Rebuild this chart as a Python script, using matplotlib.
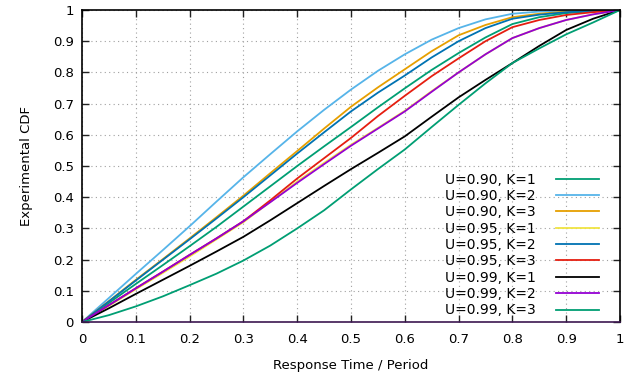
import matplotlib
matplotlib.use("Agg")
import matplotlib.pyplot as plt

x = [0.00, 0.05, 0.10, 0.15, 0.20, 0.25, 0.30, 0.35, 0.40, 0.45, 0.50,
     0.55, 0.60, 0.65, 0.70, 0.75, 0.80, 0.85, 0.90, 0.95, 1.00]

u90_k1 = [0, .061, .122, .182, .243, .305, .370, .435, .500, .563, .625,
          .688, .749, .808, .862, .912, .955, .977, .990, .996, 1]
u90_k2 = [0, .077, .154, .230, .307, .386, .464, .538, .611, .680, .745,
          .805, .858, .905, .942, .970, .988, .995, .998, .999, 1]
u90_k3 = [0, .067, .135, .201, .268, .336, .405, .477, .548, .620, .690,
          .752, .810, .868, .919, .952, .977, .988, .995, .998, 1]
u95_k1 = [0, .052, .105, .157, .210, .265, .320, .385, .450, .510, .568,
          .622, .677, .740, .800, .858, .910, .942, .968, .986, 1]
u95_k2 = [0, .066, .133, .199, .265, .332, .400, .470, .540, .608, .675,
          .735, .790, .848, .900, .942, .972, .985, .993, .997, 1]
u95_k3 = [0, .054, .108, .161, .215, .268, .323, .390, .460, .525, .590,
          .660, .725, .788, .845, .900, .945, .968, .984, .993, 1]
u99_k1 = [0, .044, .090, .135, .180, .226, .273, .326, .381, .436, .490,
          .542, .595, .658, .720, .776, .830, .885, .936, .972, 1]
u99_k2 = [0, .054, .108, .161, .215, .268, .323, .384, .446, .506, .565,
          .620, .675, .738, .800, .858, .910, .942, .968, .986, 1]
u99_k3 = [0, .022, .050, .082, .118, .155, .197, .245, .300, .358, .425,
          .490, .553, .625, .696, .765, .830, .877, .922, .960, 1]

labels = ["U=0.90, K=1", "U=0.90, K=2", "U=0.90, K=3",
          "U=0.95, K=1", "U=0.95, K=2", "U=0.95, K=3",
          "U=0.99, K=1", "U=0.99, K=2", "U=0.99, K=3"]
series = [u90_k1, u90_k2, u90_k3, u95_k1, u95_k2, u95_k3, u99_k1, u99_k2, u99_k3]
colors = ["#009e73", "#56b4e9", "#e69f00", "#f0e442", "#0072b2",
          "#e51e10", "#000000", "#9400d3", "#009e73"]

xticks = [0, 0.1, 0.2, 0.3, 0.4, 0.5, 0.6, 0.7, 0.8, 0.9, 1]
yticks = [0, 0.1, 0.2, 0.3, 0.4, 0.5, 0.6, 0.7, 0.8, 0.9, 1]
ticklabels = ["0", "0.1", "0.2", "0.3", "0.4", "0.5", "0.6", "0.7", "0.8", "0.9", "1"]

plt.rcParams['font.family'] = ['DejaVu Sans']
fig = plt.figure(figsize=(6.29, 3.74), dpi=100)
ax = fig.add_axes([82/629, 52/374, 538/629, 312/374])

for ys, lab, c in zip(series, labels, colors):
    ax.plot(x, ys, color=c, lw=1.3, label=lab)

ax.set_xlim(0, 1)
ax.set_ylim(0, 1)
ax.set_xticks(xticks)
ax.set_yticks(yticks)
ax.set_xticklabels(ticklabels)
ax.set_yticklabels(ticklabels)
ax.tick_params(direction='in', top=True, right=True, length=5, width=1,
               labelsize=9.5, colors='#222222', labelcolor='black')
ax.tick_params(axis='x', pad=8)
ax.tick_params(axis='y', pad=6)
ax.grid(True, color='#a0a0a0', linestyle=(0, (1, 3)), linewidth=0.8)
for s in ax.spines.values():
    s.set_linewidth(1.2)
    s.set_color('black')
ax.spines['bottom'].set_color('#3c1650')

ax.set_xlabel("Response Time / Period", fontsize=9.5, labelpad=9)
ax.set_ylabel("Experimental CDF", fontsize=9.5, labelpad=14)

leg = ax.legend(loc='lower right', bbox_to_anchor=(0.977, -0.012), frameon=False,
                markerfirst=False, fontsize=10, handlelength=3.1,
                labelspacing=0.17, handletextpad=1.5, borderaxespad=0.2)

fig.savefig("out.png", dpi=100)
